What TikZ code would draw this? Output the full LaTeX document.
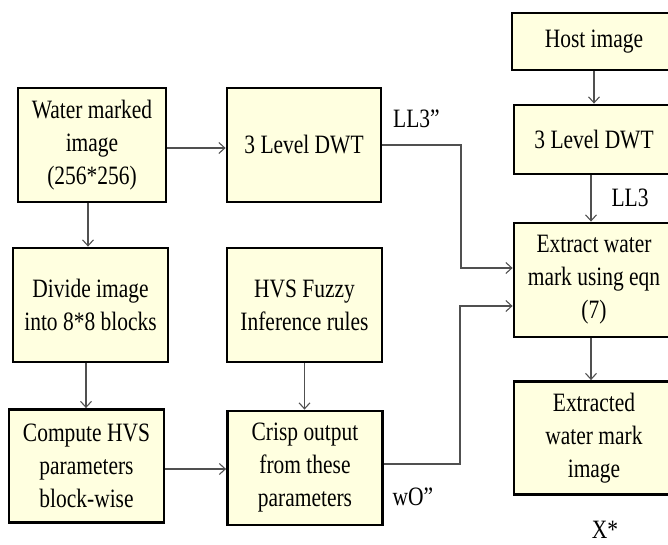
\documentclass[tikz,border=0pt]{standalone}
\usepackage{fontspec}
\setmainfont{Liberation Serif}[FakeStretch=0.81]
\usetikzlibrary{arrows.meta}
\definecolor{boxfill}{RGB}{255,255,224}
\definecolor{linegray}{RGB}{80,80,80}
\tikzset{
  blk/.style={draw=black, line width=2.8pt, fill=boxfill, align=center, inner sep=0pt,
    font=\fontsize{26.5}{33}\selectfont},
  arr/.style={draw=linegray, line width=1.1pt, -{Straight Barb[length=6pt,width=11pt]}},
  lbl/.style={font=\fontsize{26.5}{33}\selectfont, inner sep=0pt}
}
\begin{document}
\begin{tikzpicture}[x=1pt,y=-1pt]
\useasboundingbox (0,0) rectangle (668,545);
\clip (0,0) rectangle (668,545);
% left part
\node[blk, minimum width=148pt, minimum height=114pt] (wm) at (92,145) {Water marked\\image\\(256*256)};
\node[blk, minimum width=154pt, minimum height=114pt] (dwt1) at (304,145) {3 Level DWT};
\node[blk, minimum width=155pt, minimum height=114pt] (div) at (90.5,305) {Divide image\\into 8*8 blocks};
\node[blk, minimum width=155pt, minimum height=114pt] (fuzzy) at (304.5,305) {HVS Fuzzy\\Inference rules};
\node[blk, minimum width=155pt, minimum height=113pt] (comp) at (86.5,466) {Compute HVS\\parameters\\block-wise};
\node[blk, minimum width=155pt, minimum height=114pt] (crisp) at (305,468) {Crisp output\\from these\\parameters};
% right column
\node[blk, minimum width=164pt, minimum height=57pt] (host) at (594,41.5) {Host image};
\node[blk, minimum width=160pt, minimum height=69pt] (dwt2) at (594,139.5) {3 Level DWT};
\node[blk, minimum width=160pt, minimum height=114pt] (ext) at (594,280) {Extract water\\mark using eqn\\(7)};
\node[blk, minimum width=160pt, minimum height=113pt] (extd) at (594,438) {Extracted\\water mark\\image};
% junctions
\coordinate (j1) at (461,268);
\coordinate (j2) at (460,306);
% connectors
\draw[arr] ([yshift=-3pt]wm.east) -- ([yshift=-3pt]wm.east -| dwt1.west);
\draw[arr] ([xshift=-4pt]wm.south) -- ([xshift=-4pt]wm.south |- div.north);
\draw[arr] ([xshift=-4.5pt]div.south) -- ([xshift=-4.5pt]div.south |- comp.north);
\draw[arr] (fuzzy.south) -- (fuzzy.south |- crisp.north);
\draw[arr] ([yshift=-3pt]comp.east) -- ([yshift=-3pt]comp.east -| crisp.west);
\draw[arr] (dwt1.east) -| (j1) -- (j1 -| ext.west);
\draw[arr] ([yshift=4pt]crisp.east) -| (j2) -- (j2 -| ext.west);
\draw[arr] (host.south) -- (dwt2.north);
\draw[arr] ([xshift=-3pt]dwt2.south) -- ([xshift=-3pt]ext.north);
\draw[arr] ([xshift=-3pt]ext.south) -- ([xshift=-3pt]extd.north);
% labels
\node[lbl, anchor=base west] (l1) at (393,128) {LL3”};
\node[lbl] (l2) at (630,198) {LL3};
\node[lbl] (l3) at (413,497) {wO”};
\node[lbl, anchor=base] (l4) at (605,538) {X*};
\end{tikzpicture}
\end{document}
